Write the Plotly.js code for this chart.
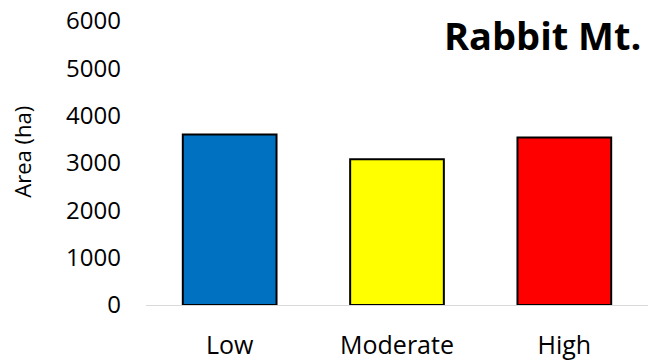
<!DOCTYPE html>
<html>
<head>
<meta charset="utf-8">
<script src="https://cdn.plot.ly/plotly-3.0.1.min.js"></script>
<style>
  html, body { margin: 0; padding: 0; background: #ffffff; }
  #chart { width: 653px; height: 361px; }
</style>
</head>
<body>
<div id="chart"></div>
<script>
// Burn severity classes and burned area (ha)
const severityClasses = ["Low", "Moderate", "High"];
const areaHa = [3600, 3080, 3540];
const barColors = ["#0070C0", "#FFFF00", "#FF0000"];
const yTicks = [0, 1000, 2000, 3000, 4000, 5000, 6000];

const font = "Open Sans, Noto Sans, sans-serif";

const trace = {
  type: "bar",
  x: severityClasses,
  y: areaHa,
  marker: {
    color: barColors,
    line: { color: "#000000", width: 2 }
  },
  hoverinfo: "x+y"
};

const layout = {
  width: 653,
  height: 361,
  margin: { l: 146, r: 5, t: 21, b: 56 },
  paper_bgcolor: "#ffffff",
  plot_bgcolor: "#ffffff",
  showlegend: false,
  bargap: 0.44,
  xaxis: {
    type: "category",
    showline: true,
    linecolor: "#d9d9d9",
    linewidth: 1,
    ticks: "",
    showgrid: false,
    zeroline: false,
    ticklabelstandoff: 18,
    tickfont: { family: font, size: 25, color: "#000000" }
  },
  yaxis: {
    range: [0, 6000],
    tickvals: yTicks,
    ticktext: yTicks.map(String),
    showgrid: false,
    zeroline: false,
    showline: false,
    ticks: "",
    ticklabelstandoff: 24,
    tickfont: { family: font, size: 24, color: "#000000" }
  },
  annotations: [
    {
      text: "Area (ha)",
      textangle: -90,
      xref: "paper", yref: "paper",
      x: -0.247, y: 0.54,
      xanchor: "center", yanchor: "middle",
      showarrow: false,
      font: { family: font, size: 22, color: "#000000" }
    },
    {
      text: "<b>Rabbit Mt.</b>",
      xref: "paper", yref: "paper",
      x: 0.99, y: 0.95,
      xanchor: "right", yanchor: "middle",
      showarrow: false,
      font: { family: font, size: 38, color: "#000000" }
    }
  ]
};

Plotly.newPlot("chart", [trace], layout, { displayModeBar: false, staticPlot: true });
</script>
</body>
</html>
